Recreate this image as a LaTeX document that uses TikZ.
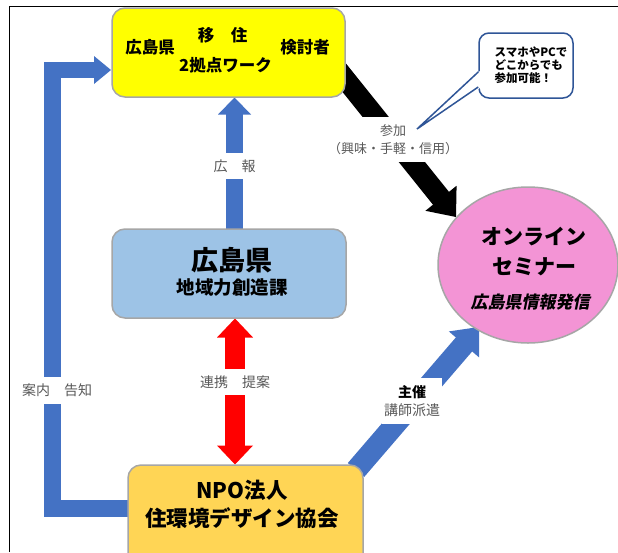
\documentclass[tikz,border=0pt]{standalone}
\usepackage{fontspec}
\setmainfont{Noto Sans CJK JP}
\newfontfamily\jpsl[FakeSlant=0.2]{Noto Sans CJK JP}
\usetikzlibrary{calc,shapes.geometric}
\definecolor{boxyellow}{HTML}{FFFF00}
\definecolor{boxblue}{HTML}{9DC3E6}
\definecolor{boxpink}{HTML}{F394D5}
\definecolor{boxgold}{HTML}{FFD555}
\definecolor{arrowblue}{HTML}{4472C4}
\definecolor{arrowred}{HTML}{FF0000}
\definecolor{bordergray}{HTML}{A6A6A6}
\definecolor{labelgray}{HTML}{595959}
\definecolor{calloutblue}{HTML}{2F5597}
% #1 colour, #2 start, #3 tip, #4 shaft width, #5 half head width, #6 head length
\newcommand\blockarrow[6]{%
  \coordinate (ba-base) at ($(#3)!#6!(#2)$);
  \coordinate (ba-join) at ($(#3)!#6-1pt!(#2)$);
  \draw[#1, line width=#4] (#2) -- (ba-join);
  \fill[#1] ($(ba-base)!#5!90:(#3)$) -- (#3) -- ($(ba-base)!#5!-90:(#3)$) -- cycle;
}
\tikzset{
  boxnode/.style={draw=bordergray, line width=1.5pt, rounded corners=13pt, inner sep=0pt},
  boxtext/.style={inner sep=0pt, font=\bfseries},
  lbl/.style={fill=white, text=labelgray, inner xsep=2pt, inner ysep=7pt, align=center,
              font=\fontsize{14}{18}\selectfont},
}
\begin{document}
\begin{tikzpicture}[x=1pt,y=-1pt]
\useasboundingbox (0,0) rectangle (618,552);
\clip (0,0) rectangle (618,552);
% frame
\draw[line width=1pt] (9.5,552) -- (9.5,6.5) -- (618,6.5);

% coordinates of connector ends
\coordinate (kohoStart) at (234.5,236);
\coordinate (kohoTip) at (234.5,97.5);
\coordinate (redMid) at (235,382);
\coordinate (redTop) at (235,318.5);
\coordinate (redBot) at (235,464.5);
\coordinate (blackStart) at (330,60);
\coordinate (blackTip) at (456,217);
\coordinate (diagStart) at (356,470);
\coordinate (diagTip) at (479,327);
\coordinate (Lstart) at (140,508.5);
\coordinate (Lc1) at (52.5,508.5);
\coordinate (Lc2) at (52.5,70);
\coordinate (Ljoin) at (95,70);
\coordinate (Ltip) at (111,70);
\coordinate (calloutTip) at (417,129);

% arrows
\blockarrow{arrowblue}{kohoStart}{kohoTip}{17pt}{16.5pt}{17pt}
\blockarrow{arrowred}{redMid}{redTop}{20pt}{18pt}{19pt}
\blockarrow{arrowred}{redMid}{redBot}{20pt}{18pt}{19pt}
\blockarrow{black}{blackStart}{blackTip}{20.5pt}{20pt}{24pt}
\blockarrow{arrowblue}{diagStart}{diagTip}{21.5pt}{20pt}{23pt}
\draw[arrowblue, line width=16.5pt, line join=miter] (Lstart) -- (Lc1) -- (Lc2) -- (Ljoin);
\fill[arrowblue] ($(Ljoin)+(-1,-14)$) -- (Ltip) -- ($(Ljoin)+(-1,14)$) -- cycle;

% labels
\node[lbl] (koho) at (234.5,166) {広　報};
\node[lbl] (renkei) at (235,382) {連携　提案};
\node[lbl] (annai) at (57,390.5) {案内　告知};
\node[lbl, font=\fontsize{13}{18}\selectfont, inner ysep=7.5pt] (sanka) at (393,139.5) {参加\\（興味・手軽・信用）};
\node[lbl, inner ysep=7.5pt] (shusai) at (412,401) {\textcolor{black}{\bfseries 主催}\\講師派遣};

% boxes
\node[boxnode, fill=boxyellow, minimum width=233pt, minimum height=89pt] (yellow) at (228.5,52.5) {};
\node[boxnode, fill=boxblue, minimum width=234pt, minimum height=89pt] (pref) at (229,273.5) {};
\node[boxnode, fill=boxgold, minimum width=235pt, minimum height=105pt] (npo) at (245.5,517.5) {};
\node[draw=bordergray, line width=1.5pt, fill=boxpink, ellipse, minimum width=180pt, minimum height=156pt, inner sep=0pt] (seminar) at (528,265) {};

% callout
\node[draw=calloutblue, line width=1.5pt, fill=white, rounded corners=10pt, minimum width=94pt, minimum height=65pt, inner sep=0pt] (callout) at (526,65.5) {};
\fill[white] ([yshift=-5.5pt,xshift=1.6pt]callout.west) -- (calloutTip) -- ([yshift=-22.5pt,xshift=1.6pt]callout.west) -- cycle;
\draw[calloutblue, line width=1.5pt, line join=miter] ([yshift=-6.5pt]callout.west) -- (calloutTip) -- ([yshift=-21.5pt]callout.west);
\node[boxtext, align=left, font=\bfseries\fontsize{11.5}{13}\selectfont] (calloutText) at (531,65) {スマホやPCで\\どこからでも\\参加可能！};

% box texts
\node[boxtext, font=\bfseries\fontsize{16.5}{20}\selectfont] (yA) at (150,47) {広島県};
\node[boxtext, font=\bfseries\fontsize{16.5}{20}\selectfont] (yB) at (222.5,35) {移　住};
\node[boxtext, font=\bfseries\fontsize{16.5}{20}\selectfont] (yC) at (225.5,65) {2拠点ワーク};
\node[boxtext, font=\bfseries\fontsize{16.5}{20}\selectfont] (yD) at (305,47) {検討者};

\node[boxtext, font=\bfseries\fontsize{27}{30}\selectfont] (pA) at (232,260) {広島県};
\node[boxtext, font=\bfseries\fontsize{18.5}{22}\selectfont] (pB) at (232,288) {地域力創造課};

\node[boxtext, font=\bfseries\fontsize{21}{24}\selectfont] (sA) at (534,237) {オンライン};
\node[boxtext, font=\bfseries\fontsize{21}{24}\selectfont] (sB) at (534,267) {セミナー};
\node[boxtext, font=\jpsl\bfseries\fontsize{17}{20}\selectfont] (sC) at (530,302) {広島県情報発信};

\node[boxtext, font=\bfseries\fontsize{21.5}{24}\selectfont] (nA) at (242,490) {NPO法人};
\node[boxtext, font=\bfseries\fontsize{21.5}{24}\selectfont] (nB) at (242,518) {住環境デザイン協会};
\end{tikzpicture}
\end{document}
